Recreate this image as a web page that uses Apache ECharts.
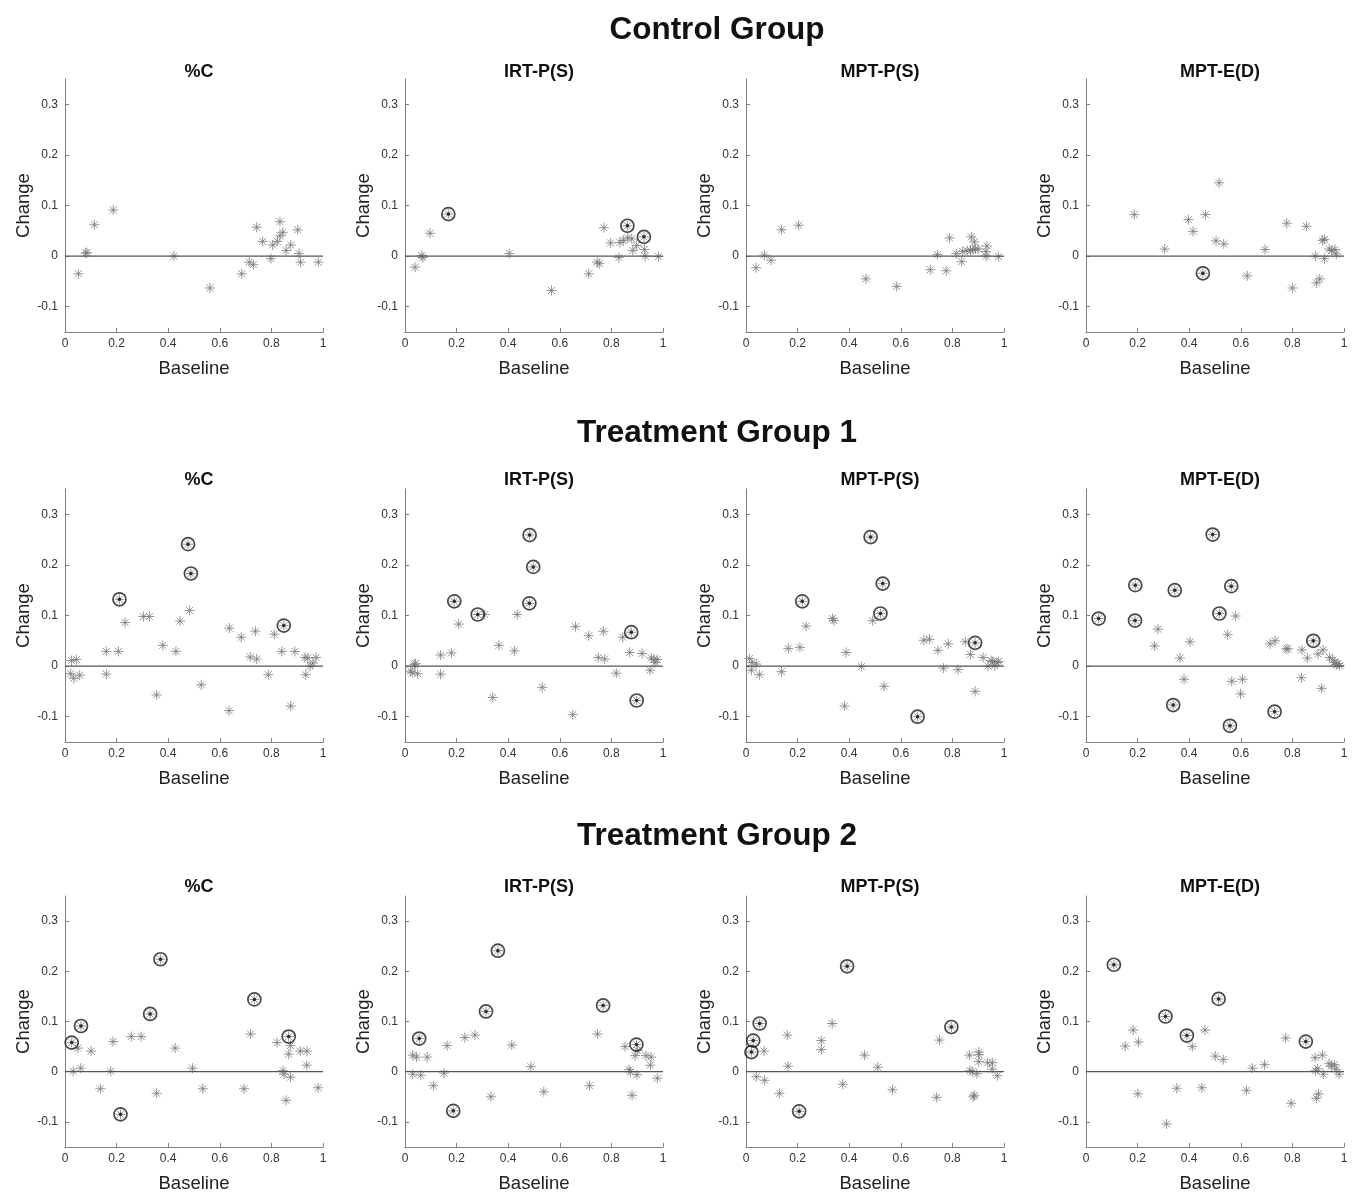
<!DOCTYPE html>
<html>
<head>
<meta charset="utf-8">
<script src="https://cdn.jsdelivr.net/npm/echarts@6/dist/echarts.min.js"></script>
<style>
  html, body { margin: 0; padding: 0; background: #fff; }
  #chart { width: 1362px; height: 1194px; }
</style>
</head>
<body>
<div id="chart"></div>
<script>
// labels
const groupNames = ['Control Group', 'Treatment Group 1', 'Treatment Group 2']
const measureNames = ['%C', 'IRT-P(S)', 'MPT-P(S)', 'MPT-E(D)']
const xTicks = [0, 0.2, 0.4, 0.6, 0.8, 1]
const yTicks = [-0.1, 0, 0.1, 0.2, 0.3]

// ---- Control group: [baseline, change] ----
const ctlPctC = [[0.052,-0.035],[0.080,0.006],[0.085,0.007],[0.114,0.062],[0.187,0.091],[0.422,0.0],[0.562,-0.063],[0.685,-0.035],[0.714,-0.012],[0.730,-0.017],[0.743,0.057],[0.766,0.029],[0.798,-0.005],[0.805,0.022],[0.823,0.029],[0.833,0.068],[0.833,0.040],[0.844,0.047],[0.857,0.011],[0.875,0.022],[0.902,0.052],[0.907,0.005],[0.913,-0.012],[0.982,-0.012]]
const ctlPctCMarked = []
const ctlIrt = [[0.039,-0.022],[0.065,0.001],[0.069,-0.003],[0.097,0.045],[0.168,0.083],[0.404,0.005],[0.568,-0.068],[0.712,-0.035],[0.745,-0.012],[0.753,-0.015],[0.771,0.056],[0.797,0.026],[0.829,-0.003],[0.833,0.027],[0.846,0.031],[0.862,0.060],[0.863,0.036],[0.879,0.034],[0.883,0.011],[0.898,0.021],[0.926,0.038],[0.928,0.013],[0.931,0.0],[0.982,-0.001]]
const ctlIrtMarked = [[0.168,0.083],[0.862,0.060],[0.926,0.038]]
const ctlMptP = [[0.039,-0.023],[0.071,0.002],[0.097,-0.008],[0.138,0.052],[0.204,0.061],[0.465,-0.045],[0.584,-0.060],[0.714,-0.027],[0.742,0.003],[0.776,-0.029],[0.789,0.036],[0.815,0.005],[0.836,-0.011],[0.840,0.009],[0.857,0.011],[0.870,0.011],[0.873,0.038],[0.879,0.013],[0.885,0.028],[0.889,0.014],[0.900,0.014],[0.930,0.009],[0.934,0.020],[0.931,0.0],[0.979,-0.001]]
const ctlMptPMarked = []
const ctlMptE = [[0.187,0.082],[0.305,0.014],[0.397,0.072],[0.415,0.049],[0.463,0.082],[0.453,-0.034],[0.504,0.030],[0.516,0.145],[0.534,0.024],[0.625,-0.039],[0.694,0.013],[0.778,0.065],[0.800,-0.063],[0.854,0.059],[0.889,0.0],[0.893,-0.053],[0.906,-0.045],[0.917,0.031],[0.924,0.033],[0.924,-0.005],[0.943,0.014],[0.952,0.011],[0.965,0.013],[0.970,0.004]]
const ctlMptEMarked = [[0.453,-0.034]]

// ---- Treatment group 1 ----
const tg1PctC = [[0.025,0.011],[0.044,0.013],[0.022,-0.015],[0.034,-0.024],[0.057,-0.018],[0.160,0.029],[0.160,-0.016],[0.207,0.029],[0.211,0.132],[0.233,0.086],[0.304,0.098],[0.327,0.098],[0.355,-0.057],[0.379,0.041],[0.430,0.029],[0.446,0.089],[0.477,0.241],[0.488,0.183],[0.483,0.110],[0.528,-0.037],[0.636,-0.088],[0.637,0.075],[0.683,0.057],[0.718,0.018],[0.738,0.069],[0.743,0.014],[0.788,-0.017],[0.811,0.063],[0.840,0.029],[0.848,0.080],[0.875,-0.079],[0.891,0.029],[0.933,-0.017],[0.930,0.017],[0.941,0.016],[0.950,0.0],[0.961,0.006],[0.973,0.017]]
const tg1PctCMarked = [[0.211,0.132],[0.477,0.241],[0.488,0.183],[0.848,0.080]]
const tg1Irt = [[0.022,-0.010],[0.028,-0.013],[0.036,0.003],[0.041,0.005],[0.049,-0.015],[0.138,0.022],[0.138,-0.016],[0.180,0.026],[0.191,0.128],[0.208,0.083],[0.282,0.102],[0.309,0.102],[0.340,-0.062],[0.364,0.041],[0.424,0.030],[0.435,0.102],[0.483,0.259],[0.497,0.196],[0.482,0.124],[0.532,-0.042],[0.650,-0.096],[0.661,0.078],[0.712,0.060],[0.749,0.017],[0.769,0.069],[0.774,0.014],[0.819,-0.014],[0.844,0.057],[0.877,0.067],[0.871,0.027],[0.898,-0.068],[0.919,0.025],[0.950,-0.008],[0.955,0.016],[0.965,0.013],[0.969,0.007],[0.978,0.013]]
const tg1IrtMarked = [[0.191,0.128],[0.282,0.102],[0.483,0.259],[0.497,0.196],[0.482,0.124],[0.877,0.067],[0.898,-0.068]]
const tg1MptP = [[0.013,0.015],[0.021,-0.008],[0.023,0.007],[0.040,0.004],[0.052,-0.017],[0.138,-0.011],[0.164,0.035],[0.209,0.037],[0.218,0.128],[0.233,0.079],[0.335,0.094],[0.341,0.090],[0.382,-0.079],[0.388,0.027],[0.447,-0.001],[0.483,0.255],[0.491,0.090],[0.521,0.104],[0.530,0.163],[0.535,-0.040],[0.665,-0.100],[0.689,0.051],[0.711,0.053],[0.744,0.031],[0.765,-0.004],[0.784,0.044],[0.822,-0.007],[0.850,0.048],[0.870,0.023],[0.888,0.046],[0.888,-0.050],[0.919,0.017],[0.938,0.0],[0.950,0.011],[0.956,0.009],[0.964,0.001],[0.973,0.007],[0.979,0.009]]
const tg1MptPMarked = [[0.218,0.128],[0.483,0.255],[0.521,0.104],[0.530,0.163],[0.665,-0.100],[0.888,0.046]]
const tg1MptE = [[0.049,0.094],[0.191,0.160],[0.190,0.090],[0.266,0.040],[0.279,0.073],[0.344,0.150],[0.338,-0.077],[0.364,0.016],[0.380,-0.026],[0.403,0.048],[0.491,0.260],[0.517,0.104],[0.549,0.062],[0.563,0.158],[0.558,-0.118],[0.565,-0.030],[0.580,0.099],[0.599,-0.055],[0.607,-0.026],[0.713,0.044],[0.731,-0.090],[0.733,0.050],[0.775,0.034],[0.783,0.034],[0.835,-0.023],[0.837,0.032],[0.858,0.016],[0.881,0.050],[0.899,0.024],[0.913,-0.044],[0.919,0.032],[0.944,0.017],[0.957,0.012],[0.964,0.007],[0.970,0.003],[0.977,0.005],[0.983,0.001]]
const tg1MptEMarked = [[0.049,0.094],[0.191,0.160],[0.190,0.090],[0.344,0.150],[0.338,-0.077],[0.491,0.260],[0.517,0.104],[0.563,0.158],[0.558,-0.118],[0.731,-0.090],[0.881,0.050]]

// ---- Treatment group 2 ----
const tg2PctC = [[0.026,0.058],[0.062,0.091],[0.215,-0.085],[0.330,0.115],[0.370,0.224],[0.734,0.144],[0.867,0.070],[0.032,0.001],[0.050,0.047],[0.061,0.007],[0.101,0.041],[0.137,-0.034],[0.177,0.001],[0.186,0.060],[0.257,0.070],[0.295,0.070],[0.355,-0.043],[0.427,0.047],[0.494,0.007],[0.534,-0.034],[0.694,-0.034],[0.719,0.075],[0.822,0.058],[0.845,0.002],[0.849,-0.005],[0.857,-0.057],[0.867,0.035],[0.874,0.052],[0.874,-0.011],[0.912,0.041],[0.938,0.041],[0.937,0.013],[0.981,-0.032]]
const tg2PctCMarked = [[0.026,0.058],[0.062,0.091],[0.215,-0.085],[0.330,0.115],[0.370,0.224],[0.734,0.144],[0.867,0.070]]
const tg2Irt = [[0.055,0.066],[0.187,-0.078],[0.314,0.120],[0.360,0.241],[0.768,0.132],[0.897,0.054],[0.030,0.033],[0.045,0.029],[0.030,-0.005],[0.061,-0.007],[0.086,0.029],[0.110,-0.028],[0.151,-0.003],[0.163,0.052],[0.232,0.068],[0.271,0.073],[0.333,-0.050],[0.414,0.053],[0.488,0.010],[0.538,-0.040],[0.715,-0.028],[0.746,0.075],[0.853,0.050],[0.868,0.004],[0.874,0.0],[0.880,-0.047],[0.892,0.032],[0.899,-0.006],[0.902,0.042],[0.934,0.032],[0.954,0.029],[0.951,0.013],[0.978,-0.013]]
const tg2IrtMarked = [[0.055,0.066],[0.187,-0.078],[0.314,0.120],[0.360,0.241],[0.768,0.132],[0.897,0.054]]
const tg2MptP = [[0.021,0.039],[0.028,0.062],[0.053,0.096],[0.206,-0.079],[0.392,0.210],[0.796,0.089],[0.040,-0.010],[0.070,0.041],[0.072,-0.017],[0.130,-0.043],[0.160,0.073],[0.163,0.011],[0.292,0.062],[0.292,0.044],[0.334,0.096],[0.375,-0.025],[0.459,0.033],[0.511,0.009],[0.568,-0.036],[0.739,-0.051],[0.750,0.063],[0.866,0.033],[0.868,0.002],[0.877,0.0],[0.881,-0.050],[0.885,-0.047],[0.895,-0.004],[0.902,0.039],[0.903,0.034],[0.902,0.020],[0.937,0.018],[0.955,0.018],[0.954,0.005],[0.974,-0.008]]
const tg2MptPMarked = [[0.021,0.039],[0.028,0.062],[0.053,0.096],[0.206,-0.079],[0.392,0.210],[0.796,0.089]]
const tg2MptE = [[0.108,0.213],[0.308,0.110],[0.391,0.072],[0.514,0.145],[0.852,0.060],[0.152,0.051],[0.183,0.083],[0.203,0.059],[0.201,-0.044],[0.312,-0.104],[0.352,-0.033],[0.412,0.050],[0.449,-0.032],[0.461,0.083],[0.501,0.031],[0.532,0.024],[0.622,-0.037],[0.645,0.007],[0.692,0.014],[0.774,0.067],[0.795,-0.063],[0.888,0.028],[0.890,0.002],[0.893,-0.053],[0.901,-0.044],[0.898,0.006],[0.916,0.033],[0.920,-0.005],[0.942,0.016],[0.951,0.011],[0.963,0.014],[0.970,0.005],[0.981,-0.005]]
const tg2MptEMarked = [[0.108,0.213],[0.308,0.110],[0.391,0.072],[0.514,0.145],[0.852,0.060]]

const panels = [
  [ctlPctC, ctlPctCMarked], [ctlIrt, ctlIrtMarked], [ctlMptP, ctlMptPMarked], [ctlMptE, ctlMptEMarked],
  [tg1PctC, tg1PctCMarked], [tg1Irt, tg1IrtMarked], [tg1MptP, tg1MptPMarked], [tg1MptE, tg1MptEMarked],
  [tg2PctC, tg2PctCMarked], [tg2Irt, tg2IrtMarked], [tg2MptP, tg2MptPMarked], [tg2MptE, tg2MptEMarked]
]

const colLeft = [65, 405, 746, 1086]
const rowTop = [79, 489, 896]
const groupTitleTop = [9, 412, 815]
const plotW = 258
const plotH = 253
const font = 'Liberation Sans, Arial, sans-serif'
const asterisk = 'path://M5,0L5,10M0,5L10,5M1.5,1.5L8.5,8.5M1.5,8.5L8.5,1.5'

const chart = echarts.init(document.getElementById('chart'))

const grid = [], xAxis = [], yAxis = [], series = [], title = []
groupNames.forEach((g, r) => {
  title.push({
    text: g, left: 712, top: groupTitleTop[r], textAlign: 'center',
    textStyle: { fontFamily: font, fontSize: 31.5, fontWeight: 'bold', color: '#111' }
  })
})

panels.forEach((p, i) => {
  const r = Math.floor(i / 4), c = i % 4
  grid.push({ left: colLeft[c], top: rowTop[r], width: plotW, height: plotH })
  title.push({
    text: measureNames[c], left: colLeft[c] + plotW / 2, top: rowTop[r] - 21 - (r > 0 ? 2 : 0), textAlign: 'center',
    textStyle: { fontFamily: font, fontSize: 18, fontWeight: 'bold', color: '#111' }
  })
  xAxis.push({
    type: 'value', gridIndex: i, min: 0, max: 1, interval: 0.2,
    name: 'Baseline', nameLocation: 'middle', nameGap: 27,
    nameTextStyle: { fontFamily: font, fontSize: 18.5, color: '#222' },
    axisLine: { onZero: false, lineStyle: { color: '#808080', width: 1 } },
    axisTick: { inside: true, length: 4, lineStyle: { color: '#808080' } },
    axisLabel: { fontFamily: font, fontSize: 12, color: '#333', margin: 6,
      formatter: v => String(+v.toFixed(1)) },
    splitLine: { show: false }
  })
  yAxis.push({
    type: 'value', gridIndex: i, min: -0.15, max: 0.35,
    name: 'Change', nameLocation: 'middle', nameGap: 31,
    nameTextStyle: { fontFamily: font, fontSize: 18.5, color: '#222' },
    axisLine: { show: true, lineStyle: { color: '#808080', width: 1 } },
    axisTick: { show: true, inside: true, length: 4, customValues: yTicks, lineStyle: { color: '#808080' } },
    axisLabel: { fontFamily: font, fontSize: 12, color: '#333', margin: 7, customValues: yTicks,
      formatter: v => String(+v.toFixed(1)) },
    splitLine: { show: false }
  })
  series.push({
    type: 'line', xAxisIndex: i, yAxisIndex: i, data: [[0, 0], [1, 0]],
    symbol: 'none', silent: true, lineStyle: { color: '#555', width: 1.2 }
  })
  series.push({
    type: 'scatter', xAxisIndex: i, yAxisIndex: i, data: p[0],
    symbol: asterisk, symbolSize: 10,
    itemStyle: { color: '#7a7a7a', borderColor: '#7a7a7a', borderWidth: 1 }
  })
  series.push({
    type: 'scatter', xAxisIndex: i, yAxisIndex: i, data: p[1],
    symbol: 'circle', symbolSize: 13,
    itemStyle: { color: 'rgba(0,0,0,0)', borderColor: '#1a1a1a', borderWidth: 1.7 }
  })
  series.push({
    type: 'scatter', xAxisIndex: i, yAxisIndex: i, data: p[1],
    symbol: 'circle', symbolSize: 3.5,
    itemStyle: { color: '#111' }
  })
})

chart.setOption({
  animation: false,
  backgroundColor: '#fff',
  title: title,
  grid: grid,
  xAxis: xAxis,
  yAxis: yAxis,
  series: series
})
</script>
</body>
</html>
